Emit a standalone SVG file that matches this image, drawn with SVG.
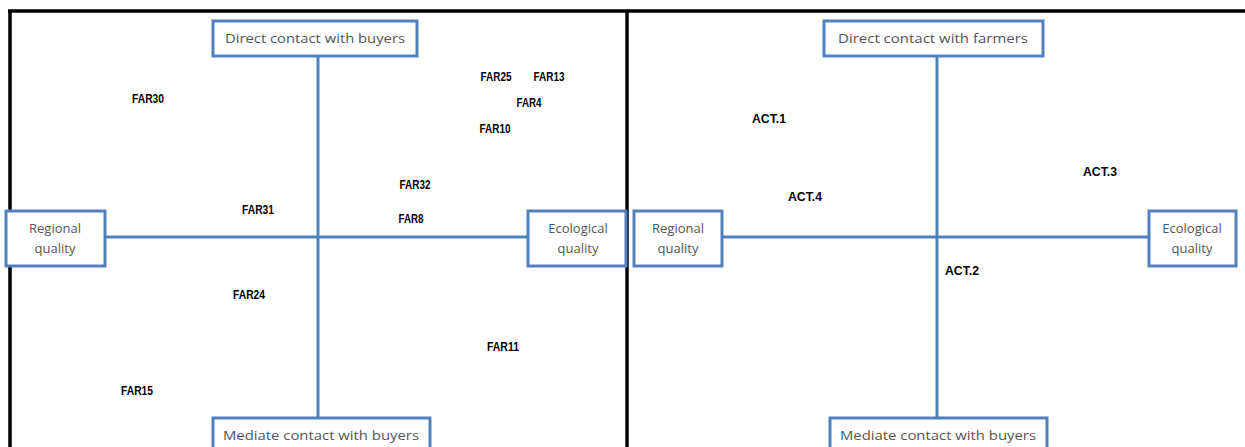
<svg xmlns="http://www.w3.org/2000/svg" width="1245" height="447" viewBox="0 0 1245 447">
<style>
.frame{stroke:#000;stroke-width:3.5;fill:none}
.axis{stroke:#4F81BD;stroke-width:3;fill:none}
.box{fill:#fff;stroke:#4F81BD;stroke-width:3}
.bl{font-family:"Open Sans","Liberation Sans",sans-serif;font-size:13px;fill:#555;text-anchor:middle}
.pt{font-family:"Liberation Sans",Arial,sans-serif;font-size:13px;font-weight:bold;fill:#000;text-anchor:middle}
</style>
<rect width="1245" height="447" fill="#fff"/>
<g id="frame">
<line class="frame" x1="8" y1="11" x2="1245" y2="11"/>
<line class="frame" x1="10" y1="10" x2="10" y2="447"/>
<line class="frame" x1="627" y1="10" x2="627" y2="447"/>
</g>
<g id="connectors">
<line class="axis" x1="318" y1="56" x2="318" y2="420"/>
<line class="axis" x1="105" y1="237" x2="528" y2="237"/>
<line class="axis" x1="937" y1="56" x2="937" y2="420"/>
<line class="axis" x1="722" y1="237" x2="1149" y2="237"/>
</g>
<g id="left-top"><rect class="box" x="213" y="21" width="204" height="35"/><text class="bl" x="315" y="43" textLength="180" lengthAdjust="spacingAndGlyphs">Direct contact with buyers</text></g>
<g id="left-regional"><rect class="box" x="6" y="211" width="99" height="55"/><text class="bl" x="55" y="233">Regional</text><text class="bl" x="55" y="253">quality</text></g>
<g id="left-ecological"><rect class="box" x="528" y="211" width="98" height="55"/><text class="bl" x="578" y="233">Ecological</text><text class="bl" x="578" y="253">quality</text></g>
<g id="left-bottom"><rect class="box" x="213" y="418" width="217" height="40"/><text class="bl" x="321" y="440" textLength="196" lengthAdjust="spacingAndGlyphs">Mediate contact with buyers</text></g>
<g id="right-top"><rect class="box" x="824" y="21" width="219" height="35"/><text class="bl" x="933" y="43" textLength="190" lengthAdjust="spacingAndGlyphs">Direct contact with farmers</text></g>
<g id="right-regional"><rect class="box" x="634" y="211" width="88" height="55"/><text class="bl" x="678" y="233">Regional</text><text class="bl" x="678" y="253">quality</text></g>
<g id="right-ecological"><rect class="box" x="1149" y="211" width="87" height="55"/><text class="bl" x="1192" y="233">Ecological</text><text class="bl" x="1192" y="253">quality</text></g>
<g id="right-bottom"><rect class="box" x="830" y="418" width="217" height="40"/><text class="bl" x="938" y="440" textLength="196" lengthAdjust="spacingAndGlyphs">Mediate contact with buyers</text></g>
<g id="FAR30"><text class="pt" x="148" y="103" textLength="32" lengthAdjust="spacingAndGlyphs">FAR30</text></g>
<g id="FAR25"><text class="pt" x="496" y="81" textLength="31" lengthAdjust="spacingAndGlyphs">FAR25</text></g>
<g id="FAR13"><text class="pt" x="549" y="81" textLength="31" lengthAdjust="spacingAndGlyphs">FAR13</text></g>
<g id="FAR4"><text class="pt" x="529" y="107" textLength="25" lengthAdjust="spacingAndGlyphs">FAR4</text></g>
<g id="FAR10"><text class="pt" x="495" y="133" textLength="31" lengthAdjust="spacingAndGlyphs">FAR10</text></g>
<g id="FAR32"><text class="pt" x="415" y="189" textLength="31" lengthAdjust="spacingAndGlyphs">FAR32</text></g>
<g id="FAR8"><text class="pt" x="411" y="223" textLength="25" lengthAdjust="spacingAndGlyphs">FAR8</text></g>
<g id="FAR31"><text class="pt" x="258" y="214" textLength="32" lengthAdjust="spacingAndGlyphs">FAR31</text></g>
<g id="FAR24"><text class="pt" x="249" y="299" textLength="32" lengthAdjust="spacingAndGlyphs">FAR24</text></g>
<g id="FAR11"><text class="pt" x="503" y="351" textLength="32" lengthAdjust="spacingAndGlyphs">FAR11</text></g>
<g id="FAR15"><text class="pt" x="137" y="395" textLength="32" lengthAdjust="spacingAndGlyphs">FAR15</text></g>
<g id="ACT1"><text class="pt" x="769" y="123" textLength="34" lengthAdjust="spacingAndGlyphs">ACT.1</text></g>
<g id="ACT4"><text class="pt" x="805" y="201" textLength="34" lengthAdjust="spacingAndGlyphs">ACT.4</text></g>
<g id="ACT3"><text class="pt" x="1100" y="176" textLength="34" lengthAdjust="spacingAndGlyphs">ACT.3</text></g>
<g id="ACT2"><text class="pt" x="962" y="275" textLength="34" lengthAdjust="spacingAndGlyphs">ACT.2</text></g>
</svg>
